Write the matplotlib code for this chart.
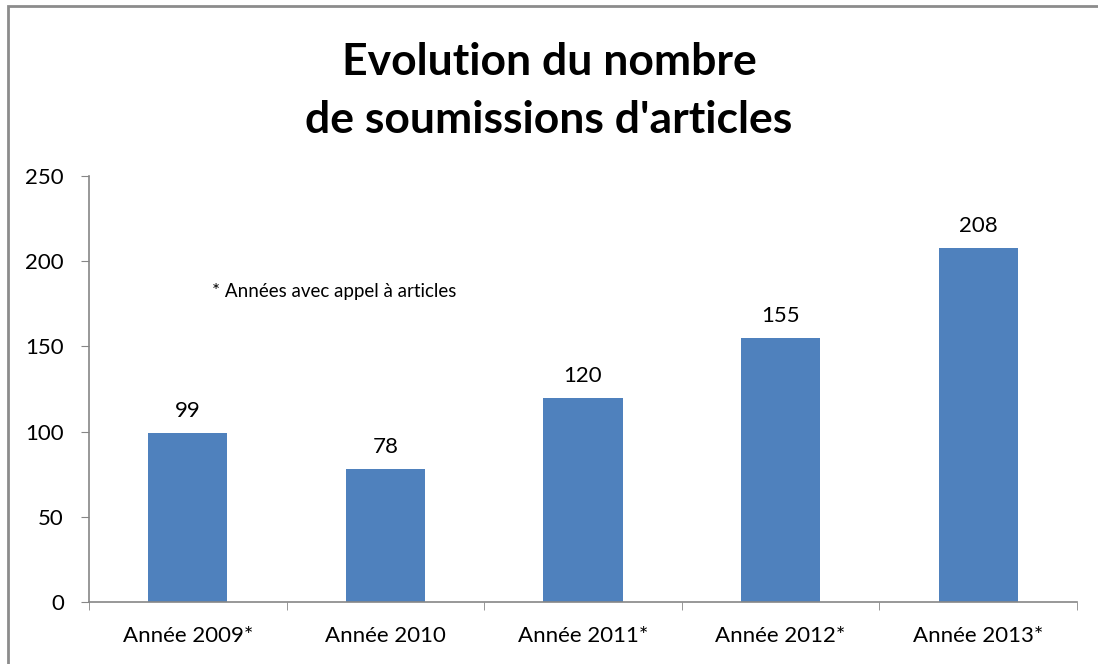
import matplotlib.pyplot as plt
from matplotlib.patches import Rectangle

categories = ["Année 2009*", "Année 2010", "Année 2011*", "Année 2012*", "Année 2013*"]
values = [99, 78, 120, 155, 208]
yticks = [0, 50, 100, 150, 200, 250]

plt.rcParams['font.family'] = ['Lato', 'DejaVu Sans']

fig = plt.figure(figsize=(10.98, 6.64), dpi=100)
ax = fig.add_axes([89/1098, 1 - 602/664, (1077 - 89)/1098, (602 - 176)/664])

x = list(range(len(categories)))
bars = ax.bar(x, values, width=0.4, color="#4F81BD")
for xi, v in zip(x, values):
    ax.text(xi, v + 7, str(v), ha="center", va="bottom", fontsize=16)

ax.set_xlim(-0.5, len(categories) - 0.5)
ax.set_ylim(0, 250)
ax.set_yticks(yticks)
ax.set_xticks(x)
ax.set_xticklabels(categories, fontsize=16)
ax.set_xticks([i - 0.5 for i in range(len(categories) + 1)], minor=True)
ax.tick_params(axis="x", which="major", length=0, pad=17)
ax.tick_params(axis="x", which="minor", length=6, color="#868686", direction="out")
ax.tick_params(axis="y", labelsize=16, length=6, color="#868686", pad=12)

for side in ["top", "right"]:
    ax.spines[side].set_visible(False)
for side in ["left", "bottom"]:
    ax.spines[side].set_color("#868686")
    ax.spines[side].set_linewidth(1.2)

fig.text(0.5, 1 - 62/664, "Evolution du nombre", ha="center", va="center",
         fontsize=32, fontweight="bold")
fig.text(0.5, 1 - 120/664, "de soumissions d'articles", ha="center", va="center",
         fontsize=32, fontweight="bold")

ax.text(0.12, 182, "* Années avec appel à articles", ha="left", va="center", fontsize=13.5,
        transform=ax.transData)

fig.patches.append(Rectangle((8/1098, -0.1), 1.2, 1 - 6/664 + 0.1, transform=fig.transFigure,
                             fill=False, edgecolor="#8c8c8c", linewidth=2))

fig.savefig("out.png", dpi=100)
